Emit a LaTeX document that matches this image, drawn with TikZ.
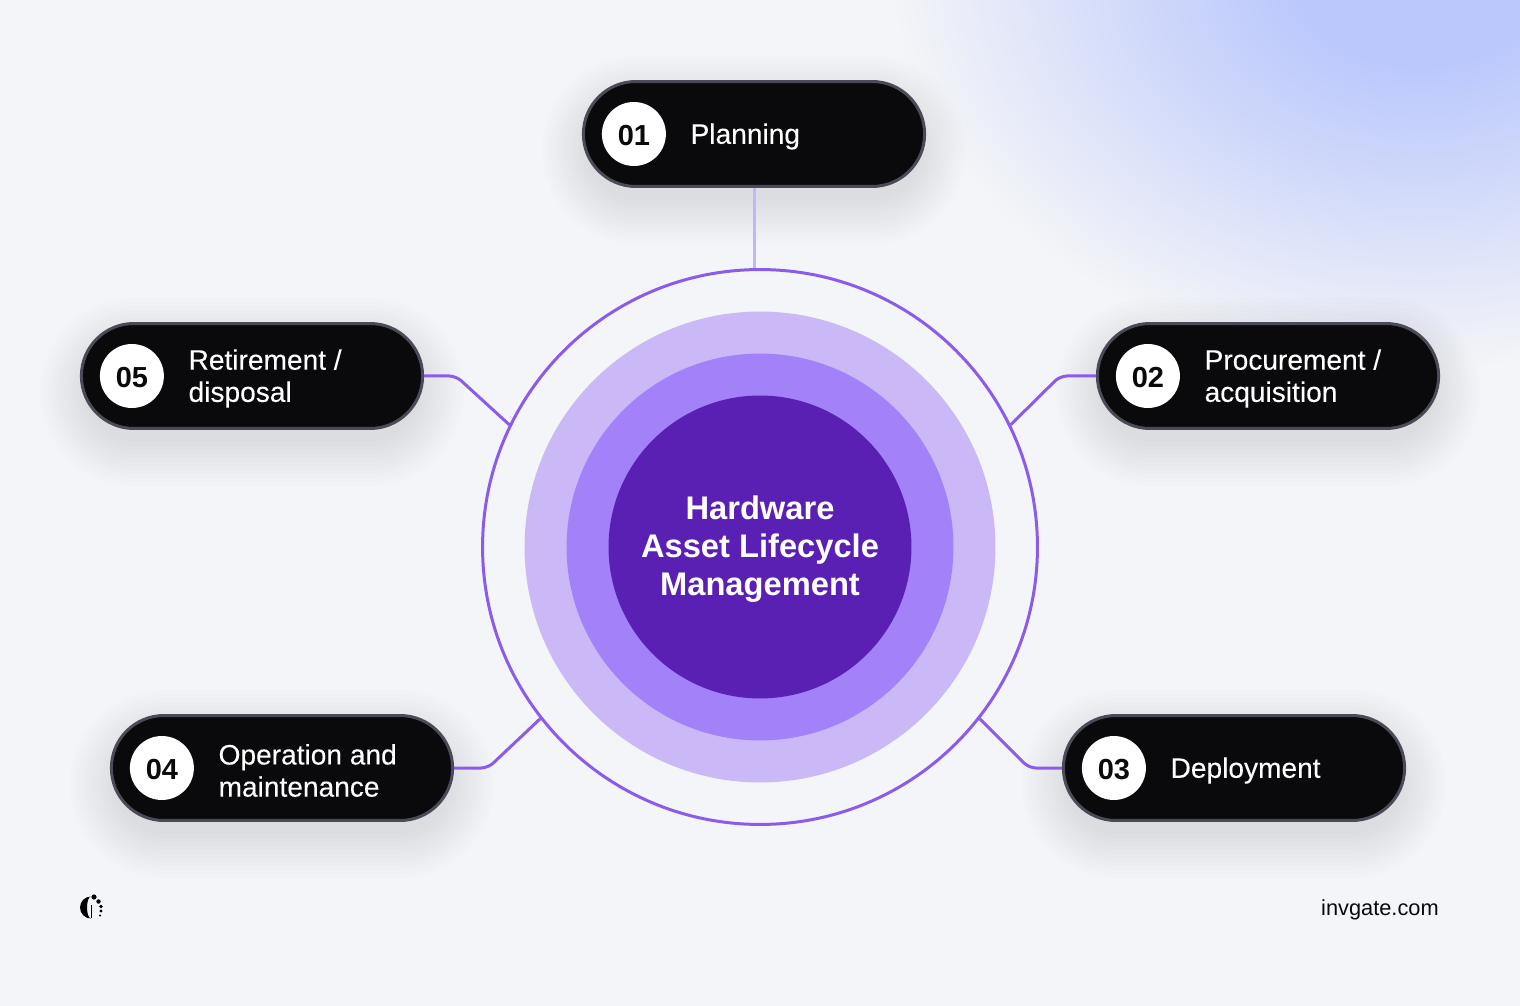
\documentclass[tikz,border=0pt]{standalone}
\usepackage{fontspec}
\setmainfont{Liberation Sans}
\newfontface\mediumface{Liberation Sans}[FakeBold=0.15]
\usetikzlibrary{shapes,calc,positioning}
\definecolor{pagebg}{HTML}{F4F5F8}
\definecolor{glow}{HTML}{BBC8FC}
\definecolor{glowmid}{HTML}{CFD8FA}
\definecolor{pillfill}{HTML}{0A0A0C}
\definecolor{pilledge}{HTML}{4B4A58}
\definecolor{ringline}{HTML}{8B5CEB}
\definecolor{stemline}{HTML}{BDB8F6}
\definecolor{ringlight}{HTML}{CBB8F7}
\definecolor{ringmid}{HTML}{A381F9}
\definecolor{ringcore}{HTML}{5A20B4}
\pgfdeclareradialshading{cornerglow}{\pgfpoint{0bp}{0bp}}{color(0bp)=(glow); color(6bp)=(glow); color(13bp)=(glowmid); color(25bp)=(pagebg); color(50bp)=(pagebg)}
\tikzstyle{pill} = [draw=pilledge, fill=pillfill, line width=0.06cm, rounded rectangle, minimum width=7.06cm, minimum height=2.1cm]
\tikzstyle{badge} = [circle, fill=white, text=pillfill, minimum size=1.28cm, inner sep=0pt, text height=13pt, text depth=0pt, font=\fontsize{16.5}{18}\selectfont\bfseries]
\tikzstyle{pilltext} = [text=white, inner sep=0pt, align=left, yshift=-0.05cm, font=\fontsize{16}{18.3}\mediumface]
\tikzstyle{disc} = [circle, inner sep=0pt]
\tikzstyle{line} = [draw=ringline, line width=0.06cm, rounded corners=0.14cm]
\tikzstyle{softshadow} = [line cap=round, draw=black, draw opacity=0.007]

\begin{document}
\begin{tikzpicture}[x=0.02cm, y=-0.02cm]
        \useasboundingbox (0,0) rectangle (1520,1006);
        \fill[pagebg] (0,0) rectangle (1520,1006);
        \begin{scope}
            \clip (0,0) rectangle (1520,1006);
            \shade[shading=cornerglow] (1420,-30) ellipse (530 and 400);
        \end{scope}
        % soft shadows under the pills
        \foreach \cx/\cy in {754/134, 252/376, 1268/376, 282/768, 1234/768}
            \foreach \wide in {2.0,2.16,2.32,2.48,2.64,2.8,2.96,3.12,3.28,3.44,3.6,3.76}
                \draw[softshadow, line width=\wide cm] (\cx-118,\cy+16) -- (\cx+118,\cy+16);
        % rings
        \node[disc, draw=ringline, line width=0.06cm, minimum size=11.1cm] (ring) at (760,547) {};
        \node[disc, fill=ringlight, minimum size=9.42cm] (lightdisc) at (ring) {};
        \node[disc, fill=ringmid, minimum size=7.74cm] (middisc) at (ring) {};
        \node[disc, fill=ringcore, minimum size=6.06cm] (core) at (ring) {};
        \node[inner sep=0pt, text=white, align=center, font=\fontsize{18.6}{21.6}\selectfont\bfseries] (coretext) at (760,549) {Hardware\\Asset Lifecycle\\Management};
        % pills
        \node[pill] (planning) at (754,134) {};
        \node[badge] (numone) at ($(planning.west)+(52,0)$) {01};
        \node[pilltext, right=0.48cm of numone] (planningtext) {Planning};
        \node[pill] (procurement) at (1268,376) {};
        \node[badge] (numtwo) at ($(procurement.west)+(52,0)$) {02};
        \node[pilltext, right=0.48cm of numtwo] (procurementtext) {Procurement /\\acquisition};
        \node[pill] (deployment) at (1234,768) {};
        \node[badge] (numthree) at ($(deployment.west)+(52,0)$) {03};
        \node[pilltext, right=0.48cm of numthree] (deploymenttext) {Deployment};
        \node[pill] (operation) at (282,768) {};
        \node[badge] (numfour) at ($(operation.west)+(52,0)$) {04};
        \node[pilltext, right=0.48cm of numfour] (operationtext) {Operation and\\maintenance};
        \node[pill] (retirement) at (252,376) {};
        \node[badge] (numfive) at ($(retirement.west)+(52,0)$) {05};
        \node[pilltext, right=0.48cm of numfive] (retirementtext) {Retirement /\\disposal};
        % connectors
        \coordinate (bendtwo) at (1060,376);
        \coordinate (bendthree) at (1029,768);
        \coordinate (bendfour) at (488,768);
        \coordinate (bendfive) at (456,376);
        \path[line, draw=stemline, rounded corners=0pt] (planning.south) -- (planning.south |- ring.north);
        \path[line] (procurement.west) -- (bendtwo) -- (ring.26);
        \path[line] (deployment.west) -- (bendthree) -- (ring.-38.6);
        \path[line] (operation.east) -- (bendfour) -- (ring.218.6);
        \path[line] (retirement.east) -- (bendfive) -- (ring.154);
        % logo and address
        \fill[black] (91,896.5) arc (270:90:11) -- (91,918.5) arc (90:270:4 and 11) -- cycle;
        \draw[black, line width=0.015cm] (91,905) -- (91,918);
        \foreach \dx/\dy/\dr in {94/897/2.6, 98.5/901.5/2.2, 101/906.5/1.9, 101/911/1.6, 100/915.5/1.2}
            \fill[black] (\dx,\dy) circle (\dr);
        \node[anchor=east, inner sep=0pt, text=pillfill, yshift=-0.04cm, font=\fontsize{12.4}{15}\selectfont] (address) at (1439,908) {invgate.com};
\end{tikzpicture}
\end{document}
